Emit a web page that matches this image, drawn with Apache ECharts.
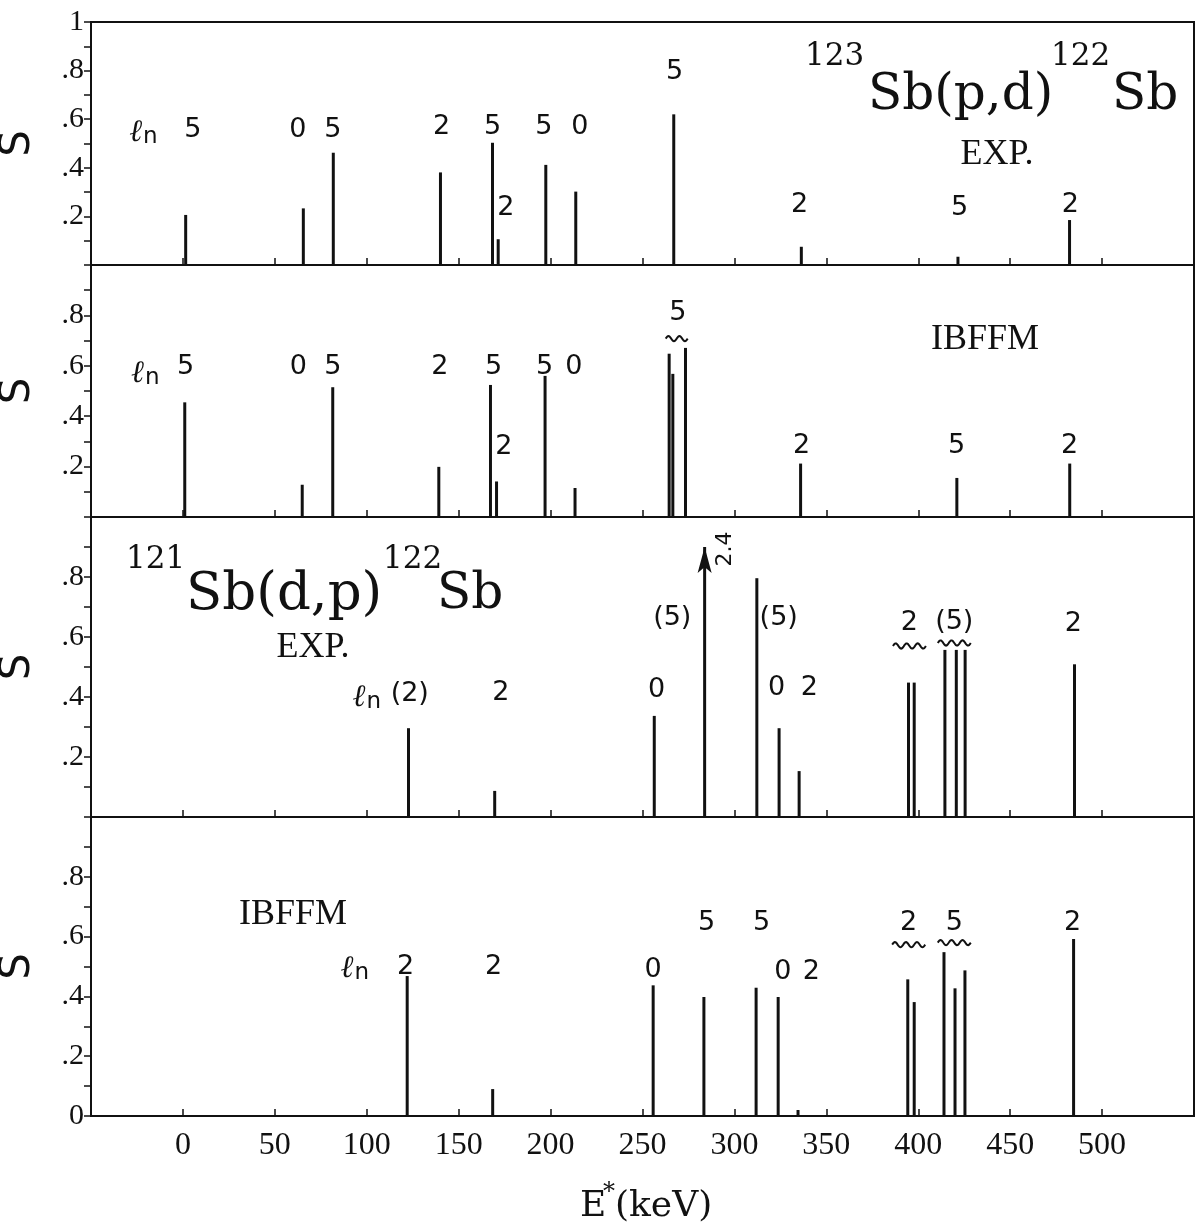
<!DOCTYPE html>
<html><head><meta charset="utf-8">
<script src="https://cdn.jsdelivr.net/npm/echarts@6/dist/echarts.min.js"></script>
<style>html,body{margin:0;padding:0;background:#fff}#c{width:1198px;height:1232px}</style>
</head><body><div id="c"></div>
<script>
// ---------- DATA ----------
const xTickLabels = ['0','50','100','150','200','250','300','350','400','450','500'];
const p1YLabels = ['1','.8','.6','.4','.2'];
const p2YLabels = ['.8','.6','.4','.2'];
const p3YLabels = ['.8','.6','.4','.2'];
const p4YLabels = ['.8','.6','.4','.2','0'];

// Panel 1: 123Sb(p,d)122Sb EXP.
const p1E = [1.5, 65.5, 81.8, 140.1, 168.4, 171.5, 197.4, 213.7, 267.0, 336.4, 421.6, 482.3];
const p1S = [0.206, 0.233, 0.462, 0.381, 0.503, 0.106, 0.412, 0.302, 0.620, 0.075, 0.034, 0.185];
// Panel 2: IBFFM
const p2E = [1.0, 64.9, 81.5, 139.2, 167.3, 170.6, 197.0, 213.3, 264.5, 266.5, 273.4, 336.0, 421.0, 482.4];
const p2S = [0.455, 0.128, 0.515, 0.199, 0.524, 0.141, 0.56, 0.115, 0.648, 0.568, 0.671, 0.212, 0.155, 0.212];
// Panel 3: 121Sb(d,p)122Sb EXP.
const p3E = [122.7, 169.6, 256.4, 283.8, 312.2, 324.3, 335.2, 394.7, 397.8, 414.5, 420.7, 425.5, 485.0];
const p3S = [0.296, 0.087, 0.337, 2.4, 0.796, 0.296, 0.153, 0.448, 0.448, 0.557, 0.557, 0.557, 0.509];
// Panel 4: IBFFM
const p4E = [122.0, 168.5, 255.8, 283.4, 311.8, 323.8, 334.6, 394.3, 397.8, 414.0, 420.0, 425.4, 484.5];
const p4S = [0.468, 0.09, 0.437, 0.398, 0.429, 0.398, 0.02, 0.457, 0.381, 0.548, 0.427, 0.487, 0.592];

// l_n annotations: [E, S, text]
const LN = '{l|ℓ}{n|n}';
const p1Labels = [[-21.5,0.556,LN],[5.4,0.556,'5'],[62.5,0.556,'0'],[81.6,0.556,'5'],[140.7,0.568,'2'],[168.4,0.568,'5'],[196.3,0.568,'5'],[215.9,0.568,'0'],[267.5,0.794,'5'],[175.6,0.235,'2'],[335.5,0.247,'2'],[422.5,0.235,'5'],[482.7,0.247,'2']];
const p2Labels = [[-20.5,0.58,LN],[1.4,0.596,'5'],[62.8,0.596,'0'],[81.6,0.596,'5'],[139.8,0.596,'2'],[169.0,0.596,'5'],[196.8,0.596,'5'],[212.6,0.596,'0'],[174.6,0.276,'2'],[269.2,0.808,'5'],[336.6,0.28,'2'],[420.9,0.28,'5'],[482.3,0.28,'2']];
const p3Labels = [[100.0,0.407,LN],[123.4,0.41,'(2)'],[172.9,0.413,'2'],[257.7,0.423,'0'],[266.2,0.663,'(5)'],[324.1,0.663,'(5)'],[323.0,0.43,'0'],[340.8,0.43,'2'],[395.2,0.647,'2'],[419.6,0.65,'(5)'],[484.3,0.643,'2']];
const p3Offscale = [[295.3,0.893,'2.4']];
const p4Labels = [[93.5,0.503,LN],[121.1,0.5,'2'],[169.0,0.5,'2'],[255.8,0.49,'0'],[284.8,0.647,'5'],[314.8,0.647,'5'],[326.3,0.48,'0'],[341.9,0.48,'2'],[394.8,0.647,'2'],[419.6,0.647,'5'],[484.0,0.647,'2']];
// grouping tildes: [E, S, humps]
const p2Tildes = [[268.6,0.708,2]];
const p3Tildes = [[395.2,0.57,3],[419.6,0.58,3]];
const p4Tildes = [[394.8,0.573,3],[419.6,0.58,3]];

// ---------- CHART ----------
const INK = '#111111';
const CAP = 0.9; // display height for off-scale peaks (drawn with an arrow)
const chart = echarts.init(document.getElementById('c'), null, {renderer:'canvas'});

const gridDefs = [{top:22,height:243},{top:265,height:252},{top:517,height:300},{top:817,height:299}];
const yShown = [p1YLabels,p2YLabels,p3YLabels,p4YLabels];
const fmtY = v => { const r = Math.round(v*10)/10; if (r===1) return '1'; if (r===0) return '0'; return '.'+Math.round(r*10); };

const grids = gridDefs.map(g => ({left:91, right:4, top:g.top, height:g.height, show:true, borderColor:INK, borderWidth:2, containLabel:false, outerBoundsMode:'none'}));
const xAxes = gridDefs.map((g,i) => ({
  type:'value', gridIndex:i, min:-50, max:550, interval:50,
  axisLine:{show:true, onZero:false, lineStyle:{color:INK, width:2}},
  axisTick:{show:true, inside:true, length:7, lineStyle:{color:INK, width:1.5}},
  splitLine:{show:false},
  axisLabel:{show:i===3, margin:14, color:INK, fontFamily:'Liberation Serif', fontSize:32,
    formatter: v => { const s = String(Math.round(v)); return xTickLabels.includes(s) ? s : ''; }}
}));
const yAxes = gridDefs.map((g,i) => ({
  type:'value', gridIndex:i, min:0, max:1, interval:0.2,
  axisLine:{show:true, onZero:false, lineStyle:{color:INK, width:2}},
  axisTick:{show:true, inside:false, length:7, lineStyle:{color:INK, width:1.5}},
  minorTick:{show:true, splitNumber:2, length:7, lineStyle:{color:INK, width:1.5}},
  splitLine:{show:false}, minorSplitLine:{show:false},
  axisLabel:{margin:7, color:INK, fontFamily:'Liberation Serif', fontSize:30,
    formatter: v => { const s = fmtY(v); return yShown[i].includes(s) ? s : ''; }},
  name:'S', nameLocation:'middle', nameGap:52, nameRotate:90,
  nameTextStyle:{color:INK, fontFamily:'DejaVu Sans', fontSize:42}
}));

function barSeries(i, E, S) {
  return {
    type:'custom', xAxisIndex:i, yAxisIndex:i, clip:false,
    data: E.map((e,k) => [e, S[k]]),
    renderItem: (params, api) => {
      const e = api.value(0), s = api.value(1);
      const top = Math.min(s, CAP);
      const p0 = api.coord([e,0]);
      const p1 = api.coord([e,top]);
      const children = [{type:'line', shape:{x1:p0[0],y1:p0[1],x2:p1[0],y2:p1[1]}, style:{stroke:INK, lineWidth:3}}];
      if (s > CAP) {
        children.push({type:'polygon', shape:{points:[[p1[0]-7,p1[1]+26],[p1[0],p1[1]],[p1[0]+7,p1[1]+26],[p1[0],p1[1]+20]]}, style:{fill:INK}});
      }
      return {type:'group', children};
    }
  };
}
function tildeSeries(i, arr) {
  return {
    type:'custom', xAxisIndex:i, yAxisIndex:i, clip:false, z:6,
    data: arr,
    renderItem: (params, api) => {
      const c = api.coord([api.value(0), api.value(1)]);
      const n = api.value(2), w = n*11, N = 40, pts = [];
      for (let t=0; t<=N; t++) pts.push([c[0]-w/2 + w*t/N, c[1] - 2.6*Math.sin(Math.PI*2*n*t/N)]);
      return {type:'polyline', shape:{points:pts}, style:{stroke:INK, lineWidth:2, fill:null}};
    }
  };
}
const lnRich = {
  l:{fontFamily:'DejaVu Serif', fontStyle:'italic', fontSize:31, color:INK, verticalAlign:'bottom'},
  n:{fontFamily:'DejaVu Sans', fontSize:23, color:INK, padding:[14,0,0,1], verticalAlign:'bottom'}
};
// annotation texts drawn as plain text elements anchored through the axes' own scales
function labelSeries(i, arr, opts) {
  opts = opts || {};
  return {
    type:'custom', xAxisIndex:i, yAxisIndex:i, clip:false, z:5,
    data: arr.map(d => [d[0], d[1]]),
    renderItem: (params, api) => {
      const c = api.coord([api.value(0), api.value(1)]);
      const t = arr[params.dataIndex][2];
      return {type:'text', x:c[0], y:c[1], rotation: opts.rotate ? Math.PI/2 : 0,
        style:{text:t, rich:lnRich, fill:INK, fontFamily:'DejaVu Sans', fontSize:opts.size||27,
          align:'center', verticalAlign:'middle', textAlign:'center', textVerticalAlign:'middle'}};
    }
  };
}

const serif = 'DejaVu Serif';
function txt(x, y, text, size, family, align) {
  return {type:'text', x:x, y:y, z:10, style:{text:text, fontSize:size, fontFamily:family||serif, fill:INK, textAlign:align||'left', align:align||'left', textVerticalAlign:'middle', verticalAlign:'middle'}};
}

chart.setOption({
  backgroundColor:'#ffffff',
  animation:false,
  grid: grids, xAxis: xAxes, yAxis: yAxes,
  series: [
    barSeries(0,p1E,p1S), barSeries(1,p2E,p2S), barSeries(2,p3E,p3S), barSeries(3,p4E,p4S),
    labelSeries(0,p1Labels), labelSeries(1,p2Labels), labelSeries(2,p3Labels), labelSeries(3,p4Labels),
    tildeSeries(1,p2Tildes), tildeSeries(2,p3Tildes), tildeSeries(3,p4Tildes),
    labelSeries(2,p3Offscale,{rotate:true, size:22})
  ],
  graphic: [
    txt(805, 57, '123', 31), txt(868, 96, 'Sb(p,d)', 50), txt(1051, 57, '122', 31), txt(1112, 96, 'Sb', 50),
    txt(997, 155, 'EXP.', 36, 'Liberation Serif', 'center'),
    txt(985, 340, 'IBFFM', 36, 'Liberation Serif', 'center'),
    txt(126, 560, '121', 31), txt(186, 595, 'Sb(d,p)', 53), txt(383, 560, '122', 31), txt(437, 595, 'Sb', 50),
    txt(313, 648, 'EXP.', 36, 'Liberation Serif', 'center'),
    txt(293, 915, 'IBFFM', 36, 'Liberation Serif', 'center'),
    txt(580, 1207, 'E', 36), txt(603, 1193, '*', 24), txt(615, 1207, '(keV)', 36)
  ]
});
</script>
</body></html>
